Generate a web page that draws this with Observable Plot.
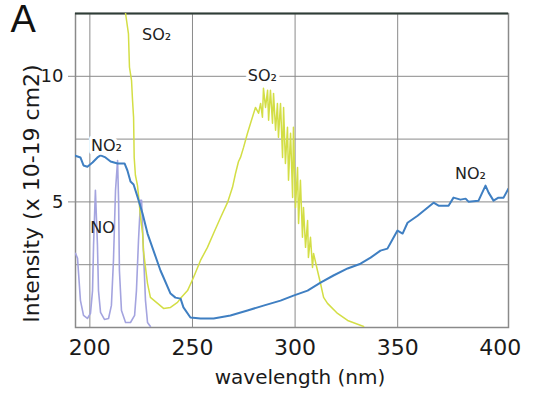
<!DOCTYPE html>
<html><head><meta charset="utf-8">
<script src="https://cdn.jsdelivr.net/npm/d3@7"></script>
<script src="https://cdn.jsdelivr.net/npm/@observablehq/plot@0.6"></script>
<style>
html,body{margin:0;padding:0;background:#fff;}
#chart{width:546px;height:395px;}
svg g[aria-label="x-axis tick label"]{font-size:22px;}
svg g[aria-label="y-axis tick label"]{font-size:18px;}
</style></head><body><div id="chart"></div>
<script>
// ---- axis / grid values ----
const xTicks = [200, 250, 300, 350, 400];
const yTicks = [5, 10];
const xGrid = [200, 250, 300, 350];
const yGrid = [2.5, 5, 7.5, 10];
const yTop = [12.5];
const xTitle = "wavelength (nm)";
const yTitle = "Intensity (x 10-19 cm2)";
const panel = "A";

// ---- NO2 (blue) ----
const no2Wl = [192.5,195.4,196.9,198.8,201.3,203.7,205.2,207.6,210.1,213.5,216.9,218.3,219.8,221.3,223.2,225.7,228.1,231.0,234.4,235.9,239.3,241.7,244.2,245.6,249.0,253.9,260.3,268.5,276.8,284.6,292.9,299.2,306.1,312.4,318.7,325.6,331.9,336.8,341.6,345.0,348.0,349.9,352.4,354.8,359.7,364.5,367.5,369.9,374.8,377.2,380.6,383.1,384.5,389.4,392.8,394.3,396.7,399.1,401.6,404.0];
const no2Val = [6.85,6.77,6.45,6.40,6.57,6.77,6.85,6.77,6.61,6.53,6.53,6.25,5.81,5.69,5.21,4.53,3.74,3.06,2.27,1.99,1.35,1.19,1.15,0.80,0.40,0.36,0.36,0.48,0.68,0.87,1.07,1.27,1.47,1.79,2.07,2.35,2.54,2.78,3.06,3.14,3.58,3.86,3.74,4.17,4.45,4.77,4.97,4.85,4.85,5.17,5.09,5.13,5.01,5.05,5.65,5.37,5.05,5.17,5.17,5.53];

// ---- SO2 (yellow-green) ----
const so2Wl = [216.8,217.4,218.8,219.3,220.3,220.8,221.3,221.6,222.2,223.2,223.7,224.7,225.7,226.1,227.1,228.1,229.5,233.0,235.9,239.3,242.7,244.2,247.6,250.5,253.9,257.3,260.3,263.7,267.1,269.5,271.0,272.4,273.4,274.9,276.8,278.3,280.7,282.2,283.2,284.1,284.6,285.6,286.6,287.1,288.0,289.0,289.5,290.5,291.4,291.9,292.9,293.9,294.4,295.3,296.3,296.8,297.8,298.8,299.2,300.2,301.2,301.7,302.6,303.6,304.1,305.1,306.1,306.5,307.5,308.5,309.0,310.9,312.4,313.9,315.8,320.7,325.6,333.4];
const so2Val = [13.5,12.5,11.7,10.36,9.84,9.04,8.37,6.77,6.06,5.66,5.26,4.38,3.74,3.07,2.39,1.75,1.20,0.96,0.76,0.80,1.00,1.16,1.47,1.99,2.67,3.19,3.75,4.38,4.98,5.58,6.14,6.60,6.77,7.17,7.73,8.13,8.76,8.53,8.92,8.37,9.52,8.76,9.44,8.25,9.44,8.13,9.32,7.85,8.92,7.57,8.92,6.77,8.76,6.53,7.97,5.86,7.73,5.18,7.97,4.78,6.37,4.14,5.86,3.59,4.78,3.19,4.26,2.79,3.59,2.39,2.95,2.27,1.75,1.20,0.96,0.56,0.28,0.04];

// ---- NO (lavender) ----
const noWl = [193.0,194.0,194.5,195.4,196.9,198.8,200.3,201.3,201.8,202.7,203.7,204.2,205.2,207.1,209.1,210.5,211.5,212.5,213.5,214.0,214.4,215.4,217.4,219.8,221.8,222.7,223.7,224.7,225.2,226.1,227.1,228.1,229.5];
const noVal = [2.95,2.75,2.15,1.08,0.48,0.36,0.56,1.47,3.27,5.46,3.27,1.47,0.60,0.32,0.36,0.88,2.67,5.46,6.65,5.06,2.27,0.68,0.20,0.20,0.48,1.47,3.47,5.06,5.06,3.07,1.08,0.20,0.04];

// ---- annotations ----
const labelText = ["SO\u2082", "SO\u2082", "NO\u2082", "NO\u2082", "NO"];
const labelWl = [232.5, 284.1, 208.1, 385.5, 206.2];
const labelVal = [11.63, 10.0, 7.25, 6.1, 3.98];
const labelHalo = [true, true, true, true, false];

const toRows = (wl, v) => wl.map((w, i) => ({wl: w, v: v[i]}));
const no2 = toRows(no2Wl, no2Val);
const so2 = toRows(so2Wl, so2Val);
const no = toRows(noWl, noVal);
const labels = labelText.map((t, i) => ({t, wl: labelWl[i], v: labelVal[i], halo: labelHalo[i]}));

const gridColor = "#8a8a8a";
const chart = Plot.plot({
  width: 546, height: 395,
  marginLeft: 75, marginRight: 38, marginTop: 13, marginBottom: 68,
  style: {fontFamily: "DejaVu Sans", background: "#fff", overflow: "visible"},
  x: {domain: [193, 404]},
  y: {domain: [0, 12.5]},
  marks: [
    Plot.ruleX(xGrid, {stroke: gridColor, strokeWidth: 1}),
    Plot.ruleY(yGrid, {stroke: gridColor, strokeWidth: 1}),
    Plot.frame({stroke: gridColor, strokeWidth: 1.5}),
    Plot.ruleY(yTop, {stroke: "#2e3d36", strokeWidth: 2}),
    Plot.line(no, {x: "wl", y: "v", stroke: "#a4a4df", strokeWidth: 1.6, clip: true}),
    Plot.line(so2, {x: "wl", y: "v", stroke: "#d3de45", strokeWidth: 1.5, clip: true}),
    Plot.line(no2, {x: "wl", y: "v", stroke: "#3f7fc2", strokeWidth: 2, clip: true}),
    Plot.text(labels.filter(d => d.halo), {x: "wl", y: "v", text: "t", fontSize: 16, fill: "#222", stroke: "white", strokeWidth: 7}),
    Plot.text(labels.filter(d => !d.halo), {x: "wl", y: "v", text: "t", fontSize: 16, fill: "#222"}),
    Plot.axisX({ticks: xTicks, tickSize: 0, tickPadding: 12, fontSize: 22, fill: "#1a1a1a", tickFormat: d => String(d), label: null}),
    Plot.axisY({ticks: yTicks, tickSize: 7, tickPadding: 5, fontSize: 18, fill: "#1a1a1a", stroke: gridColor, tickFormat: d => String(d), label: null}),
    Plot.text([xTitle], {frameAnchor: "bottom", textAnchor: "middle", lineAnchor: "middle", dx: 8, dy: 50, fontSize: 20, fill: "#1a1a1a"}),
    Plot.text([yTitle], {frameAnchor: "left", textAnchor: "middle", lineAnchor: "middle", rotate: -90, dx: -44, dy: 23, fontSize: 22, fill: "#1a1a1a"}),
    Plot.text([panel], {frameAnchor: "top-left", textAnchor: "start", lineAnchor: "top", dx: -65, dy: -8, fontSize: 38, fontFamily: "Liberation Sans", fill: "#111"})
  ]
});
document.getElementById("chart").appendChild(chart);
</script>
</body></html>
